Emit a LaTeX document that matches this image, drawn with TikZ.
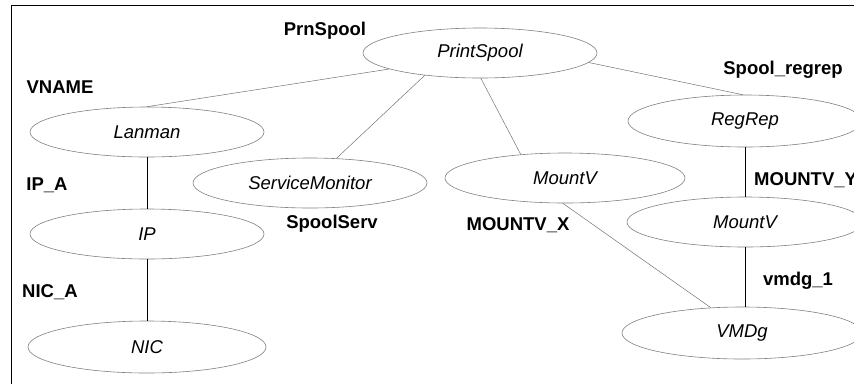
\documentclass[tikz,border=0pt]{standalone}
\usepackage{fontspec}
\setmainfont{Liberation Sans}
\usetikzlibrary{shapes.geometric}
\tikzset{
  ell/.style={ellipse, draw=black!50, line width=0.6pt, inner sep=0pt,
    minimum width=234pt, minimum height=50pt, font=\fontsize{18.5}{22}\selectfont\itshape},
  lbl/.style={font=\fontsize{18.5}{22}\selectfont\bfseries, inner sep=0pt},
  thin line/.style={draw=black!55, line width=0.5pt},
  dark line/.style={draw=black, line width=0.8pt},
  frame/.style={draw=black, line width=1pt}
}
\begin{document}
\begin{tikzpicture}[x=1pt,y=-1pt]
\useasboundingbox (0,0) rectangle (854,384);
\clip (0,0) rectangle (854,384);
\draw[frame] (11,384) -- (11,5) -- (860,5);
% nodes
\node[ell] (PS) at (480,53) {PrintSpool};
\node[ell] (LM) at (147,132) {Lanman};
\node[ell] (SM) at (310,183) {ServiceMonitor};
\node[ell] (IP) at (147,234) {IP};
\node[ell, minimum width=238pt, minimum height=52pt] (NIC) at (147,347) {NIC};
\node[ell, minimum width=240pt] (MV) at (565,178) {MountV};
\node[ell, minimum height=52pt] (RR) at (745,121) {RegRep};
\node[ell, minimum width=236pt] (MV2) at (745,222) {MountV};
\node[ell, minimum width=240pt, minimum height=52pt] (VM) at (742,333) {VMDg};
% labels
\node[lbl] (l1) at (325,31) {PrnSpool};
\node[lbl] (l2) at (60,87) {VNAME};
\node[lbl] (l3) at (47,185) {IP\_A};
\node[lbl] (l4) at (332,224) {SpoolServ};
\node[lbl] (l5) at (50,292) {NIC\_A};
\node[lbl] (l6) at (783,70) {Spool\_regrep};
\node[lbl, anchor=west] (l7) at (754,180) {MOUNTV\_Y};
\node[lbl] (l8) at (518,225) {MOUNTV\_X};
\node[lbl] (l9) at (798,281) {vmdg\_1};
% connectors
\draw[thin line] (PS.190) -- (LM.north);
\draw[thin line] (PS.202) -- (SM.43);
\draw[thin line] (PS.272) -- (MV.152);
\draw[thin line] (PS.355) -- (RR.95);
\draw[thin line] (MV.265) -- (VM.141);
\draw[dark line] (LM.south) -- (IP.north);
\draw[dark line] (IP.south) -- (NIC.north);
\draw[dark line] (RR.south) -- (MV2.north);
\draw[dark line] (MV2.south) -- (MV2.south |- VM.north);
\end{tikzpicture}
\end{document}
